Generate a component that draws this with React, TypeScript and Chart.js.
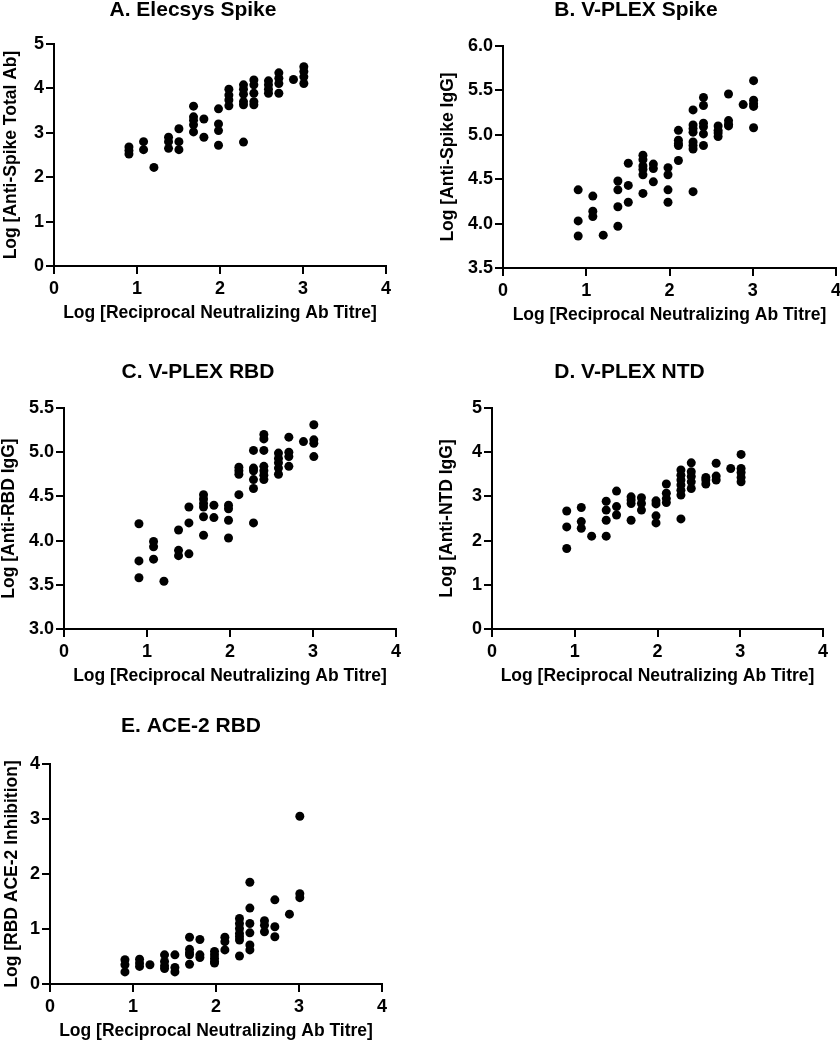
import React, { useEffect, useRef } from "react";
import { Chart, registerables } from "chart.js";

Chart.register(...registerables);

// Log10 of reciprocal neutralizing titre (1:8 ... 1:1024)
const titreLog = [0.903, 1.079, 1.204, 1.38, 1.505, 1.681, 1.806, 1.982, 2.107, 2.283, 2.408, 2.584, 2.709, 2.885, 3.01];

// y-values per titre column
const elecsysSpike = [
  [2.68, 2.6, 2.52],
  [2.8, 2.62],
  [2.22],
  [2.9, 2.8, 2.65],
  [3.09, 2.8, 2.62],
  [3.6, 3.36, 3.28, 3.18, 3.02],
  [3.31, 2.9],
  [3.54, 3.2, 3.05, 2.72],
  [3.98, 3.85, 3.74, 3.61],
  [4.08, 3.98, 3.87, 3.7, 3.63, 2.79],
  [4.19, 4.08, 3.89, 3.7, 3.63],
  [4.17, 4.08, 3.98, 3.89],
  [4.35, 4.23, 4.11, 3.89],
  [4.2],
  [4.49, 4.38, 4.26, 4.11],
];

const vplexSpike = [
  [4.38, 4.03, 3.86],
  [4.31, 4.14, 4.08],
  [3.87],
  [4.48, 4.38, 4.19, 3.97],
  [4.68, 4.43, 4.24],
  [4.77, 4.72, 4.65, 4.61, 4.55, 4.34],
  [4.67, 4.62, 4.47],
  [4.63, 4.55, 4.38, 4.24],
  [5.05, 4.94, 4.9, 4.88, 4.71],
  [5.28, 5.11, 5.07, 5.03, 4.92, 4.88, 4.84, 4.36],
  [5.42, 5.33, 5.13, 5.09, 5.01, 4.88],
  [5.1, 5.05, 5.02, 4.98],
  [5.46, 5.16, 5.12, 5.1],
  [5.34],
  [5.61, 5.39, 5.35, 5.32, 5.08],
];

const vplexRbd = [
  [4.19, 3.77, 3.58],
  [3.99, 3.93, 3.79],
  [3.54],
  [4.12, 3.89, 3.83],
  [4.38, 4.2, 3.85],
  [4.52, 4.47, 4.42, 4.38, 4.27, 4.06],
  [4.4, 4.26],
  [4.4, 4.36, 4.23, 4.03],
  [4.83, 4.79, 4.75, 4.52],
  [5.02, 4.82, 4.79, 4.69, 4.59, 4.2],
  [5.2, 5.15, 5.02, 4.84, 4.79, 4.74, 4.69],
  [4.99, 4.93, 4.88, 4.82, 4.75],
  [5.17, 5.0, 4.95, 4.84],
  [5.12],
  [5.31, 5.14, 5.1, 4.95],
];

const vplexNtd = [
  [2.67, 2.31, 1.82],
  [2.75, 2.43, 2.28],
  [2.1],
  [2.89, 2.69, 2.46, 2.1],
  [3.12, 2.77, 2.58],
  [2.99, 2.92, 2.84, 2.46],
  [2.97, 2.84, 2.69],
  [2.9, 2.83, 2.56, 2.4],
  [3.28, 3.07, 2.95, 2.86],
  [3.6, 3.48, 3.37, 3.26, 3.14, 3.03, 2.49],
  [3.76, 3.56, 3.45, 3.33, 3.18],
  [3.43, 3.37, 3.28],
  [3.75, 3.46, 3.37],
  [3.63],
  [3.95, 3.63, 3.54, 3.43, 3.33],
];

const ace2Rbd = [
  [0.44, 0.35, 0.22],
  [0.45, 0.38, 0.32],
  [0.35],
  [0.53, 0.41, 0.33, 0.28],
  [0.53, 0.3, 0.22],
  [0.85, 0.63, 0.57, 0.53, 0.36],
  [0.81, 0.53, 0.48],
  [0.59, 0.53, 0.47, 0.41, 0.38],
  [0.85, 0.77, 0.62],
  [1.19, 1.1, 1.01, 0.92, 0.86, 0.8, 0.51],
  [1.85, 1.38, 1.1, 0.93, 0.71, 0.62],
  [1.15, 1.07, 0.95],
  [1.53, 1.04, 0.86],
  [1.27],
  [3.05, 1.64, 1.57],
];

const xTicks = [0, 1, 2, 3, 4];
const xTitle = "Log [Reciprocal Neutralizing Ab Titre]";

const FONT = "'Liberation Sans', Arial, Helvetica, sans-serif";

type PanelCfg = {
  title: string;
  yTitle: string;
  values: number[][];
  yMin: number;
  yMax: number;
  yStep: number;
  decimals: number;
  left: number;
  top: number;
  width: number;
  height: number;
  yW: number;
  xH: number;
  titleGap: number;
  yTitlePad: number;
  xTitlePad: number;
  padRight: number;
};

const TITLE_SIZE = 21;

const panels: PanelCfg[] = [
  { title: "A. Elecsys Spike", yTitle: "Log [Anti-Spike Total Ab]", values: elecsysSpike, yMin: 0, yMax: 5, yStep: 1, decimals: 0,
    left: 0, top: 0, width: 398, height: 328, yW: 54, xH: 62, titleGap: 44 - TITLE_SIZE, yTitlePad: 2, xTitlePad: 5.75, padRight: 12 },
  { title: "B. V-PLEX Spike", yTitle: "Log [Anti-Spike IgG]", values: vplexSpike, yMin: 3.5, yMax: 6.0, yStep: 0.5, decimals: 1,
    left: 436, top: 0, width: 412, height: 330, yW: 67, xH: 62, titleGap: 46 - TITLE_SIZE, yTitlePad: 3.25, xTitlePad: 5.75, padRight: 12 },
  { title: "C. V-PLEX RBD", yTitle: "Log [Anti-RBD IgG]", values: vplexRbd, yMin: 3.0, yMax: 5.5, yStep: 0.5, decimals: 1,
    left: 0, top: 362, width: 408, height: 329, yW: 64, xH: 62, titleGap: 46 - TITLE_SIZE, yTitlePad: 0.5, xTitlePad: 5.75, padRight: 12 },
  { title: "D. V-PLEX NTD", yTitle: "Log [Anti-NTD IgG]", values: vplexNtd, yMin: 0, yMax: 5, yStep: 1, decimals: 0,
    left: 436, top: 362, width: 399, height: 329, yW: 56, xH: 62, titleGap: 46 - TITLE_SIZE, yTitlePad: 2.25, xTitlePad: 5.75, padRight: 12 },
  { title: "E. ACE-2 RBD", yTitle: "Log [RBD ACE-2 Inhibition]", values: ace2Rbd, yMin: 0, yMax: 4, yStep: 1, decimals: 0,
    left: 0, top: 716, width: 394, height: 330, yW: 50, xH: 62, titleGap: 48 - TITLE_SIZE, yTitlePad: 3.25, xTitlePad: 5.75, padRight: 12 },
];

function Panel({ cfg }: { cfg: PanelCfg }) {
  const ref = useRef<HTMLCanvasElement | null>(null);
  useEffect(() => {
    if (!ref.current) return;
    const pts: { x: number; y: number }[] = [];
    cfg.values.forEach((col, i) => col.forEach((v) => pts.push({ x: titreLog[i], y: v })));
    const tickFont = { family: FONT, size: 18, weight: "bold" as const, lineHeight: 1.2 };
    const axisTitleFont = { family: FONT, size: 17.5, weight: "bold" as const, lineHeight: 1 };
    const chart = new Chart(ref.current, {
      type: "scatter",
      data: {
        datasets: [
          {
            data: pts,
            backgroundColor: "#000",
            borderColor: "#000",
            borderWidth: 0,
            pointRadius: 4.5,
            pointHoverRadius: 4.5,
          },
        ],
      },
      options: {
        animation: false,
        responsive: false,
        devicePixelRatio: 1,
        layout: { padding: { left: 0, top: 0, right: cfg.padRight, bottom: 0 } },
        plugins: {
          legend: { display: false },
          tooltip: { enabled: false },
          title: {
            display: true,
            text: cfg.title,
            color: "#000",
            font: { family: FONT, size: TITLE_SIZE, weight: "bold", lineHeight: 1 },
            padding: { top: 0, bottom: cfg.titleGap },
          },
        },
        scales: {
          x: {
            type: "linear",
            min: 0,
            max: 4,
            afterBuildTicks: (s: any) => {
              s.ticks = xTicks.map((v) => ({ value: v }));
            },
            ticks: { color: "#000", font: tickFont, padding: 4, callback: (v: any) => String(v) },
            grid: { drawOnChartArea: false, drawTicks: true, tickLength: 8, color: "#000", lineWidth: 2 },
            border: { display: true, color: "#000", width: 2 },
            title: { display: true, text: xTitle, color: "#000", font: axisTitleFont, padding: { top: 0, bottom: cfg.xTitlePad } },
            afterFit: (s: any) => {
              s.height = cfg.xH;
              s.paddingLeft = 0;
              s.paddingRight = 0;
            },
          },
          y: {
            type: "linear",
            min: cfg.yMin,
            max: cfg.yMax,
            ticks: {
              stepSize: cfg.yStep,
              color: "#000",
              font: tickFont,
              padding: 2,
              callback: (v: any) => Number(v).toFixed(cfg.decimals),
            },
            grid: { drawOnChartArea: false, drawTicks: true, tickLength: 8, color: "#000", lineWidth: 2 },
            border: { display: true, color: "#000", width: 2 },
            title: { display: true, text: cfg.yTitle, color: "#000", font: axisTitleFont, padding: { top: cfg.yTitlePad, bottom: 0 } },
            afterFit: (s: any) => {
              s.width = cfg.yW;
            },
          },
        },
      },
    });
    return () => chart.destroy();
  }, [cfg]);
  return (
    <canvas
      ref={ref}
      width={cfg.width}
      height={cfg.height}
      style={{ position: "absolute", left: cfg.left, top: cfg.top, width: cfg.width, height: cfg.height }}
    />
  );
}

export default function App() {
  return (
    <div
      style={{
        position: "absolute",
        left: 0,
        top: 0,
        width: 840,
        height: 1043,
        overflow: "hidden",
        background: "#fff",
      }}
    >
      {panels.map((p) => (
        <Panel key={p.title} cfg={p} />
      ))}
    </div>
  );
}
